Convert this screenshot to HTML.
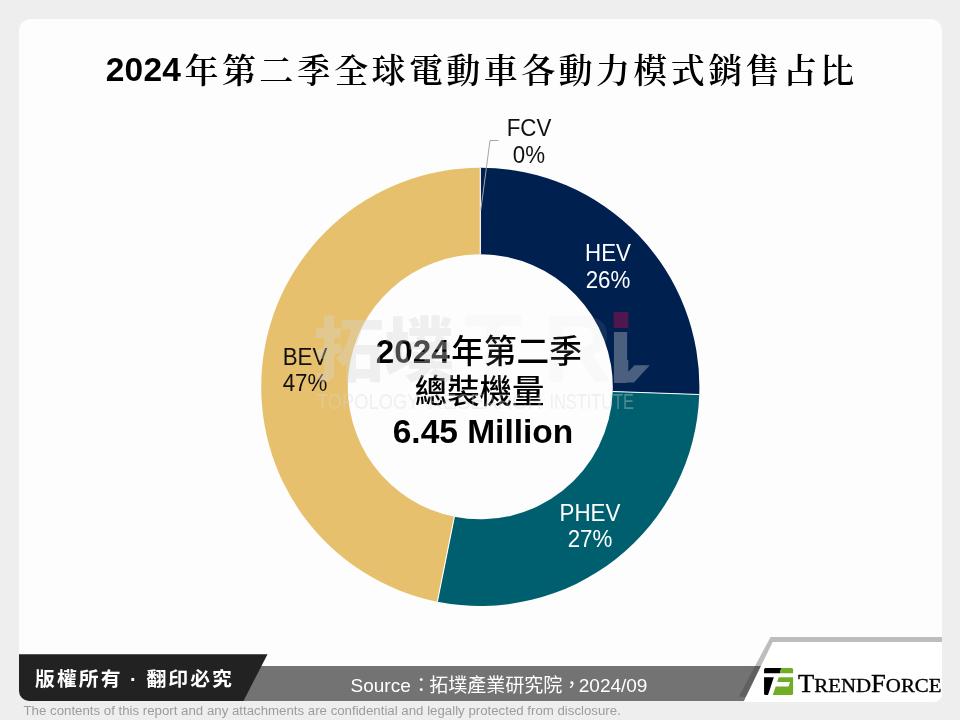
<!DOCTYPE html>
<html lang="zh-Hant">
<head>
<meta charset="utf-8">
<title>2024年第二季全球電動車各動力模式銷售占比</title>
<style>
html,body{margin:0;padding:0;}
body{width:960px;height:720px;overflow:hidden;background:#eee;font-family:"Liberation Sans","Noto Sans CJK TC",sans-serif;}
#stage{position:relative;width:960px;height:720px;overflow:hidden;background:#eee;}
#panel{position:absolute;left:18.8px;top:18.8px;width:923.2px;height:682.2px;border-radius:12px 12px 8px 10px;background:#fdfdfd;}
#title{position:absolute;left:1.75px;top:45px;width:960px;height:52px;line-height:52px;text-align:center;white-space:nowrap;color:#000;font-family:"Liberation Sans","Noto Serif CJK SC",serif;font-size:34px;font-weight:600;letter-spacing:3.4px;}
#title .num{font-family:"Liberation Sans",sans-serif;font-weight:700;font-size:33.5px;letter-spacing:0.2px;position:relative;top:-2px;margin-right:3.5px;}
#chart{position:absolute;left:0;top:0;width:960px;height:720px;}
.lbl{position:absolute;text-align:center;white-space:nowrap;font-family:"Liberation Sans",sans-serif;font-size:24px;line-height:26.3px;color:#111;transform:scaleX(0.93);}
.lbl.w{color:#fff;}
#center{position:absolute;left:0;top:0;width:960px;height:720px;color:#000;}
.cl{position:absolute;left:330px;width:300px;height:48px;line-height:48px;text-align:center;white-space:nowrap;font-family:"Liberation Sans","Noto Sans CJK TC",sans-serif;}
.cn{font-family:"Liberation Sans",sans-serif;font-weight:700;}
.cj{font-family:"Liberation Sans","Noto Sans CJK TC",sans-serif;font-weight:500;margin-left:1.5px;font-size:32.7px;}
.cj2{font-family:"Liberation Sans","Noto Sans CJK TC",sans-serif;font-weight:500;}
#wm{position:absolute;left:0;top:0;width:960px;height:720px;pointer-events:none;}
#blackbar{position:absolute;left:18.8px;top:654.2px;width:249px;height:46.7px;background:#222;border-bottom-left-radius:10px;clip-path:polygon(0 0,248.7px 0,224.7px 100%,0 100%);}
#copy{position:absolute;left:35px;top:663px;height:32px;line-height:32px;color:#fff;font-family:"Liberation Sans","Noto Sans CJK TC",sans-serif;font-weight:700;font-size:19.8px;letter-spacing:2.1px;white-space:nowrap;}
#graybar{position:absolute;left:230px;top:665.8px;width:540px;height:35.1px;background:#737373;}
#source{position:absolute;left:350.5px;top:672.6px;height:26px;line-height:26px;color:#fff;font-family:"Liberation Sans","Noto Sans CJK TC",sans-serif;font-size:19px;white-space:nowrap;}
#disc{position:absolute;left:23.5px;top:703px;height:16px;line-height:16px;color:#9c9c9c;font-family:"Liberation Sans",sans-serif;font-weight:400;font-size:13.25px;white-space:nowrap;}
#logo{position:absolute;left:0;top:0;width:960px;height:720px;}
</style>
</head>
<body>
<div id="stage">
  <div id="panel"></div>
  <div id="title"><span class="num">2024</span>年第二季全球電動車各動力模式銷售占比</div>

  <svg id="chart" width="960" height="720" viewBox="0 0 960 720">
    <!-- donut slices inserted here -->
    <g id="donut">
    <path d="M480.30 167.75A219.1 219.1 0 0 1 480.87 167.75L480.65 254.35A132.5 132.5 0 0 0 480.30 254.35Z" fill="#0a2a5c"/>
    <path d="M480.87 167.75A219.1 219.1 0 0 1 699.27 394.50L612.72 391.47A132.5 132.5 0 0 0 480.65 254.35Z" fill="#002050"/>
    <path d="M699.27 394.50A219.1 219.1 0 0 1 437.37 601.70L454.34 516.78A132.5 132.5 0 0 0 612.72 391.47Z" fill="#005f6e"/>
    <path d="M437.37 601.70A219.1 219.1 0 0 1 480.30 167.75L480.30 254.35A132.5 132.5 0 0 0 454.34 516.78Z" fill="#e6c06c"/>
    <line x1="480.30" y1="167.75" x2="480.30" y2="254.35" stroke="#fff" stroke-width="1.1"/>
    <line x1="699.27" y1="394.50" x2="612.72" y2="391.47" stroke="#fff" stroke-width="1.1"/>
    <line x1="437.37" y1="601.70" x2="454.34" y2="516.78" stroke="#fff" stroke-width="1.1"/>
    <polyline points="480.8,210 490,140.5 498.5,140.5" fill="none" stroke="#a6a6a6" stroke-width="1"/>
    </g>
  </svg>

  <div class="lbl" style="left:478.7px;top:115.3px;width:100px;">FCV<br>0%</div>
  <div class="lbl w" style="left:557.8px;top:240.4px;width:100px;">HEV<br>26%</div>
  <div class="lbl w" style="left:539.9px;top:499.5px;width:100px;">PHEV<br>27%</div>
  <div class="lbl" style="left:255.2px;top:344.2px;width:100px;">BEV<br>47%</div>

  <div id="center">
    <div class="cl" style="top:327.5px;left:328.8px;font-size:33.3px;"><span class="cn">2024</span><span class="cj">年第二季</span></div>
    <div class="cl" style="top:368px;left:329.6px;font-size:32.4px;"><span class="cj2">總裝機量</span></div>
    <div class="cl" style="top:408.3px;left:333px;font-size:33.5px;"><span class="cn">6.45 Million</span></div>
  </div>

  <svg id="wm" width="960" height="720" viewBox="0 0 960 720">
    <g opacity="0.09" fill="#d8d8e0">
      <text x="464 543" y="382" font-family="'Liberation Sans',sans-serif" font-weight="700" font-size="96">TR</text>
    </g>
    <g opacity="0.35" fill="#d8d8d8">
      <text x="314" y="375.5" font-family="'Liberation Sans','Noto Sans CJK TC',sans-serif" font-weight="900" font-size="70">拓墣</text>
      <text x="607.2" y="382.5" font-family="'Liberation Sans',sans-serif" font-weight="700" font-size="96">i</text>
      <polygon points="620,360 628.3,360 628.3,371.7 634.5,365.3 649.7,365.3 634,382.5 620,382.5"/>
      <text y="408.5" font-family="'Liberation Sans',sans-serif" font-weight="400" font-size="21.5"><tspan x="317" textLength="102" lengthAdjust="spacingAndGlyphs">TOPOLOGY</tspan> <tspan x="428" textLength="114" lengthAdjust="spacingAndGlyphs">RESEARCH</tspan> <tspan x="549.4" textLength="84.6" lengthAdjust="spacingAndGlyphs">INSTITUTE</tspan></text>
    </g>
    <rect x="613.7" y="312" width="14.6" height="16" fill="#50164e"/>
  </svg>

  <div id="graybar"></div>
  <div id="blackbar"></div>
  <div id="copy">版權所有 · 翻印必究</div>
  <div id="source">Source<span style="margin-left:1px">：</span><span style="margin-left:-1.5px">拓墣產業研究院</span><span style="margin-right:-2.5px">，</span>2024/09</div>
  <svg id="logo" width="960" height="720" viewBox="0 0 960 720">
    <defs><clipPath id="pc"><rect x="18.8" y="18.8" width="923.2" height="683.2" rx="8" ry="8"/></clipPath></defs>
    <g clip-path="url(#pc)">
      <polygon points="770.6,637.1 942,637.1 942,645 776,645 766,665.9 755,665.9" fill="#bdbdbd"/>
      <polygon points="755,665.9 766,665.9 750,696.7 738.9,696.7" fill="#606060"/>
      <polygon points="772.7,642 942,642 942,702 743.4,702" fill="#fff"/>
      <path d="M765.57 668.07H781.2L779.9 673.35H764.07V669.57Q764.07 668.07 765.57 668.07Z" fill="#000"/>
      <path d="M781.2 668.07H791.6Q793.1 668.07 793.1 669.57V673.35H779.9Z" fill="#70ad25"/>
      <path d="M764.07 677.3H773.8L768 695H765.57Q764.07 695 764.07 693.5Z" fill="#000"/>
      <path d="M778.8 677.3H793.1V693.5Q793.1 695 791.6 695H772.8L775.68 686.5H788.6L789.9 682.05H777.19Z" fill="#70ad25"/>
      <text x="798" y="691.8" font-family="'Liberation Serif',serif" font-size="25" textLength="143.5" lengthAdjust="spacingAndGlyphs" fill="#000" stroke="#000" stroke-width="0.35">T<tspan font-size="19.6">REND</tspan>F<tspan font-size="19.6">ORCE</tspan></text>
    </g>
  </svg>
  <div id="disc">The contents of this report and any attachments are confidential and legally protected from disclosure.</div>
</div>
</body>
</html>
